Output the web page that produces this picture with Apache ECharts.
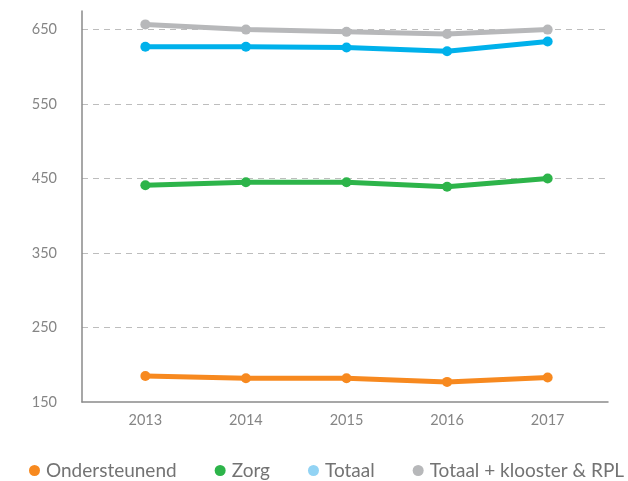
<!DOCTYPE html>
<html>
<head>
<meta charset="utf-8">
<script src="https://cdn.jsdelivr.net/npm/echarts@6/dist/echarts.min.js"></script>
<style>
html,body{margin:0;padding:0;background:#fff;}
#c{width:628px;height:481px;}
</style>
</head>
<body>
<div id="c"></div>
<script>
const years = [2013, 2014, 2015, 2016, 2017];
const ondersteunend = [185, 182, 182, 177, 183];
const zorg = [441, 445, 445, 439, 450];
const totaal = [627, 627, 626, 621, 634];
const totaalKlooster = [657, 650, 647, 644, 650];
const yTicks = [150, 250, 350, 450, 550, 650];

const names = ['Ondersteunend', 'Zorg', 'Totaal', 'Totaal + klooster & RPL'];
const lineColors = ['#f7891f', '#2db44a', '#00b1eb', '#b7b8ba'];
const legendColors = ['#f7891f', '#2db44a', '#92d3f4', '#b7b8ba'];
const seriesData = [ondersteunend, zorg, totaal, totaalKlooster];

const chart = echarts.init(document.getElementById('c'));
const font = 'Lato, "Open Sans", sans-serif';
chart.setOption({
  animation: false,
  grid: { left: 82, right: 20, top: 11, bottom: 79 },
  xAxis: {
    type: 'value',
    min: 2012.37,
    max: 2017.6,
    axisLine: { show: true, lineStyle: { color: '#8a8a8a', width: 1.5 } },
    axisTick: { show: false },
    splitLine: { show: false },
    axisLabel: {
      color: '#858585', fontSize: 14.5, fontFamily: font, margin: 11,
      showMinLabel: false, showMaxLabel: false,
      formatter: v => (Math.abs(v - Math.round(v)) < 1e-6 && years.includes(Math.round(v))) ? String(Math.round(v)) : ''
    }
  },
  yAxis: {
    type: 'value',
    min: yTicks[0],
    max: 675,
    interval: 100,
    axisLine: { show: true, lineStyle: { color: '#8a8a8a', width: 1.5 } },
    axisTick: { show: false },
    splitLine: { show: true, showMinLine: false, showMaxLine: false, lineStyle: { color: '#bdbdbd', type: [6, 5], width: 1 } },
    axisLabel: {
      color: '#858585', fontSize: 14.5, fontFamily: font, margin: 25,
      showMaxLabel: false, padding: [0, 0, 7, 0],
      formatter: v => yTicks.includes(v) ? String(v) : ''
    }
  },
  legend: {
    left: 24,
    top: 456,
    width: 640,
    icon: 'circle',
    itemWidth: 11,
    itemHeight: 11,
    itemGap: 38,
    textStyle: { color: '#737373', fontSize: 19, fontFamily: font, padding: [0, 0, 0, 1] },
    data: names.map((n, i) => ({ name: n, itemStyle: { color: legendColors[i] } }))
  },
  series: names.map((n, i) => ({
    name: n,
    type: 'line',
    data: years.map((y, j) => [y, seriesData[i][j]]),
    symbol: 'circle',
    symbolSize: 10,
    lineStyle: { color: lineColors[i], width: 5 },
    itemStyle: { color: lineColors[i] },
    z: 2 + i
  }))
});
</script>
</body>
</html>
